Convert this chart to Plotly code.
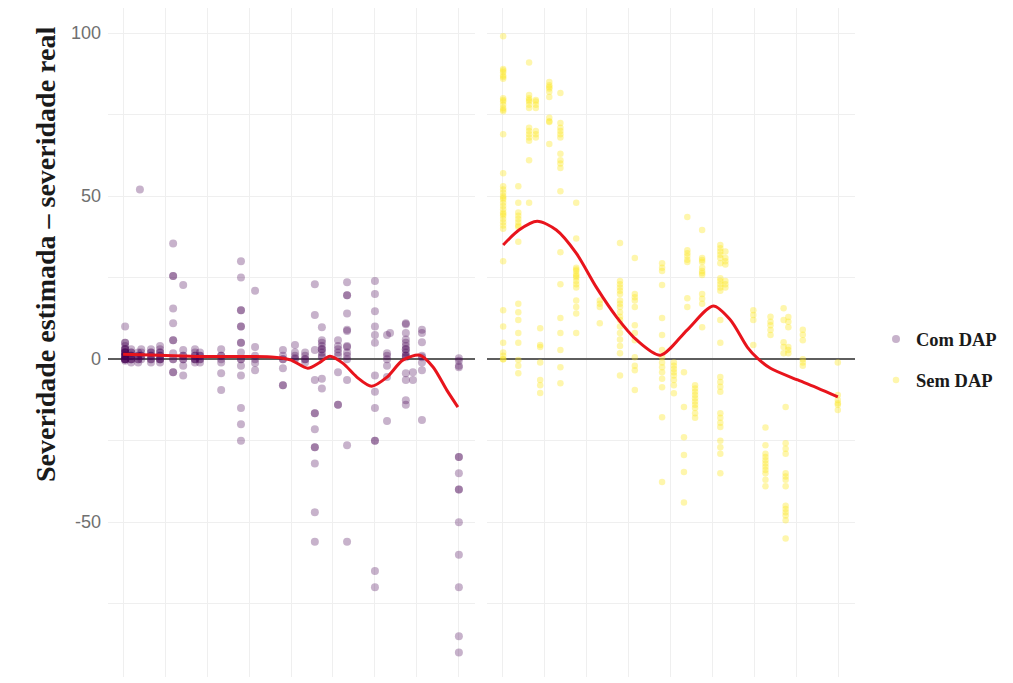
import plotly.graph_objects as go

# ---------------- data ----------------
# "Com DAP" panel: real severity levels and the (estimated - real) values at each level
com_levels = [0.6, 2.4, 4.5, 5.0, 5.4, 8.3, 11, 14.9, 17.9, 21.4, 22.9, 29.2, 35.1, 39.3,
              47.6, 51.2, 54.2, 57.1, 59.2, 64, 66.7, 75, 78.6, 79.5, 84.2, 86.3, 89, 100]
com_values = [
    [10, 5, 5, 4, 3, 3, 2, 2, 2, 1, 1, 1, 1, 0, 0, 0, 0, 0, -0.5, 1, 2, 3],
    [3, 2, 1, 1, 0, 0, -1, 2, 1, 0],
    [2, 0, 1, -1, 1, 0],
    [52],
    [3, 1, 0, 1, 2],
    [2, 0, 1, -1, 3, 1, 0, 2],
    [4, 2, 1, 0, 0, -1, 3, 1, 2, 0],
    [35.5, 25.5, 25.5, 15.5, 11, 5.8, 5.8, 1.8, 0, 0, -4, -4],
    [22.7, 2.8, 0, -2, -5, 1, 0, 1],
    [3, 1, 0, -1, 2, 1, 0, 0],
    [2, 0, -1, 1, 0, 1],
    [3, 1, 0, -1, -4.3, -9.5, 1],
    [30, 25, 15, 15, 10, 10, 5, 5, 2, 0, 0, -2, -5, -15, -20, -25],
    [21, 3.7, -1.2, -3.4, 1, 0],
    [2.8, 1, 0, -2.8, -8, -8, 0],
    [4.3, 2, 0.3, 1, 0],
    [2, 0, -1, 1, 0],
    [23, 13.5, 2.8, -6.4, -16.6, -16.6, -21.5, -27, -27, -32, -47, -56],
    [9.8, 5.8, 3, 0.6, -9, -6, 2, 4, 1, 3, 5],
    [5.8, 3, 1, -4, -14, -14, 2, 4],
    [23.6, 19.6, 19.6, 14, 9, 8.6, 4, 3.7, 0, 1, 2, -6.4, -26.4, -56],
    [24, 20, 14.7, 10, 7.4, 5, -5, -10, -15, -25, -25, -65, -70],
    [7.4, 1.8, 0, -2, -5.5, -19, 1],
    [8],
    [11, 10.7, 8, 5, 3, 1, 0.6, -4.3, -6.4, -12.6, -14, 2, 4, 3, 1, 6],
    [-4, -6.4],
    [9, 8, 5.2, 0.6, -1, -3.4, -18.7, 1],
    [0.3, -0.5, -2, -2.5, -30, -30, -35, -40, -40, -50, -60, -70, -85, -90],
]

# "Sem DAP" panel
sem_levels = [0.3, 4.8, 8, 10, 11.3, 14, 17.3, 22, 29, 35, 39.4, 47.5, 51, 54, 55, 57.3,
              59.4, 64.8, 66.3, 74.6, 78.2, 79.7, 83.6, 84.2, 85, 89.3, 99.7]
sem_values = [
    [99, 89, 88.5, 88, 87, 86.5, 86, 80, 79.5, 79, 78, 77, 76.5, 76, 69, 57, 53, 52, 51, 50, 49.5,
     49, 48, 47, 46, 45, 44.5, 44, 43, 42, 41, 40, 30, 15, 10, 5, 2, 1, 0, 0],
    [53, 48, 45, 44, 43, 42, 41, 40.5, 36, 17, 14.4, 12, 8, 5, -0.3, -2, -4.3],
    [91, 81, 80, 79.5, 79, 78, 77, 71, 70, 69, 68, 67, 61, 48],
    [79.5, 79, 78, 77, 70, 69, 68],
    [9.5, 4.3, 3.7, -1, -6.4, -8, -10.4],
    [85, 84, 83.5, 83, 82, 80.4, 74, 73, 72.7, 66],
    [81.6, 72.4, 71, 70, 69, 68, 63, 61, 60, 58.6, 51.5, 32.8, 23, 12.6, 8, 2.8, -2.5, -7.4],
    [48, 37, 28, 27.5, 27, 26, 25.5, 25, 24, 23, 22, 18, 16, 14, 8],
    [18, 17, 16, 11],
    [35.6, 24, 23, 22, 21, 20, 18, 17, 16, 14.4, 13, 12, 10, 8, 6, 4, 1.8, -5],
    [31, 20, 19, 18, 16, 10.4, 8, 5.8, 0.6, -2, -3.4, -9.5],
    [29.4, 28, 27, 22.7, 12.6, 7.4, 2.8, 0.6, -1, -2.5, -4, -6, -8.6, -17.8, -37.7],
    [-1, -2, -3, -4, -5, -6.4, -8, -10.5],
    [-4, -14.7, -24, -29.4, -34.6, -44],
    [43.6, 33.4, 32.5, 31.6, 30.5, 29.8, 18.7, 16],
    [-8, -9, -10, -11, -12, -13, -14, -15, -16.6, -18],
    [39.6, 31, 30.4, 29.8, 28, 27, 26.4, 25.8, 20, 18.5, 17, 9.8],
    [35, 34, 33, 32, 31, 29.4, 24.8, 24, 23, 22, 21, 12, 5, -5.5, -7, -8.5, -10, -16.6, -18,
     -19.5, -20.8, -25, -27, -29, -35],
    [33, 31, 30, 29, 24, 23, 22],
    [15, 13.5, 12, 4.3],
    [-21, -26.4, -29, -30, -31, -32, -33, -34, -35, -37, -39],
    [13, 11.5, 10.4, 8.9, 7.4],
    [15.6, 12, 5.2, 3.7, 1.8],
    [-14.7, -25.8, -27.5, -29, -35, -36, -37, -39, -45, -46, -47, -48, -49.4, -55],
    [12.9, 11.5, 9.8, 3.7, 2.8, 1.8],
    [9, 7.5, 5.8, 0, -1, -2],
    [-1, -11, -12.5, -13.5, -14, -15.6],
]

# smooth (loess) curves
com_smooth_x = [0, 11, 23, 38, 45, 50, 55, 58.6, 61.6, 65.5, 69.6, 74, 78.6, 83.3, 88.4, 92.3, 96.4, 99.7]
com_smooth_y = [1.5, 1.2, 0.8, 0.8, 0.6, -0.3, -2.8, -1.0, 0.9, -1.3, -5.5, -8.3, -5.5, -0.3, 1.2, -2.4, -9.5, -14.7]
sem_smooth_x = [0.3, 5, 10.4, 16.1, 22, 28, 34, 40, 47, 55, 62.7, 67.8, 72.8, 75.8, 79.7, 87.8, 93.7, 99.7]
sem_smooth_y = [35, 39.6, 42.3, 39.6, 32.5, 22, 12.9, 5.8, 1.2, 9, 16.3, 12, 3.7, 0.3, -2.8, -6.4, -8.9, -11.6]

series_names = ["Com DAP", "Sem DAP"]
y_ticks = [-75, -50, -25, 0, 25, 50, 75, 100]
y_tick_text = ["", "-50", "", "0", "", "50", "", "100"]
x_grid = [0, 12.5, 25, 37.5, 50, 62.5, 75, 87.5, 100]
y_title = "Severidade estimada \u2013 severidade real"


def flatten(levels, values):
    xs, ys = [], []
    for lv, vals in zip(levels, values):
        for v in vals:
            xs.append(lv)
            ys.append(v)
    return xs, ys


com_x, com_y = flatten(com_levels, com_values)
sem_x, sem_y = flatten(sem_levels, sem_values)

# the page body has an 8px margin, so the figure is 8px smaller than the window
W, H = 1005, 675
T, B = 0, 6
PH = H - T - B
fig = go.Figure()

fig.add_trace(go.Scatter(
    x=com_x, y=com_y, mode="markers", name="<b>" + series_names[0] + "</b>", legendgroup="a",
    marker=dict(color="#440154", size=8, opacity=0.3, line=dict(width=0)),
    xaxis="x", yaxis="y"))
fig.add_trace(go.Scatter(
    x=sem_x, y=sem_y, mode="markers", name="<b>" + series_names[1] + "</b>", legendgroup="b",
    marker=dict(color="#FDE725", size=6.5, opacity=0.38, line=dict(width=0)),
    xaxis="x2", yaxis="y2"))
fig.add_trace(go.Scatter(
    x=com_smooth_x, y=com_smooth_y, mode="lines", showlegend=False,
    line=dict(color="#E8141C", width=3, shape="spline", smoothing=0.8),
    xaxis="x", yaxis="y", hoverinfo="skip"))
fig.add_trace(go.Scatter(
    x=sem_smooth_x, y=sem_smooth_y, mode="lines", showlegend=False,
    line=dict(color="#E8141C", width=3, shape="spline", smoothing=0.8),
    xaxis="x2", yaxis="y2", hoverinfo="skip"))

grid = "#EFEFEF"
xcommon = dict(range=[-4.5, 104.8], tickvals=x_grid, showticklabels=False, showgrid=True,
               gridcolor=grid, gridwidth=1, zeroline=False, ticks="", showline=False,
               automargin=False)
ycommon = dict(range=[-97.5, 107.7], tickvals=y_ticks, showgrid=True, gridcolor=grid,
               gridwidth=1, zeroline=True, zerolinecolor="#5E5E5E", zerolinewidth=1.8,
               ticks="", showline=False, automargin=False)

fig.update_layout(
    width=W, height=H,
    margin=dict(l=0, r=0, t=T, b=B, autoexpand=False),
    paper_bgcolor="white", plot_bgcolor="white",
    xaxis=dict(domain=[100 / W, 467 / W], anchor="y", **xcommon),
    xaxis2=dict(domain=[479 / W, 847 / W], anchor="y2", **xcommon),
    yaxis=dict(anchor="x", ticktext=y_tick_text, showticklabels=True, ticklabelstandoff=6,
               tickfont=dict(family="Liberation Sans, Arial", size=18, color="#707070"),
               **ycommon),
    yaxis2=dict(anchor="x2", matches="y", showticklabels=False, **ycommon),
    showlegend=True,
    legend=dict(x=868 / W, y=(PH - 352) / PH, xanchor="left", yanchor="middle",
                font=dict(family="Liberation Serif, Times New Roman", size=18.5, color="#1A1A1A"),
                tracegroupgap=14, bgcolor="rgba(0,0,0,0)", itemsizing="trace",
                itemwidth=30),
    annotations=[dict(
        text="<b>" + y_title + "</b>", xref="paper", yref="paper",
        x=37 / W, y=(PH - 247) / PH, xanchor="center", yanchor="middle",
        textangle=-90, showarrow=False,
        font=dict(family="Liberation Serif, Times New Roman", size=28, color="#1A1A1A"))],
)

fig.write_html("out.html")
